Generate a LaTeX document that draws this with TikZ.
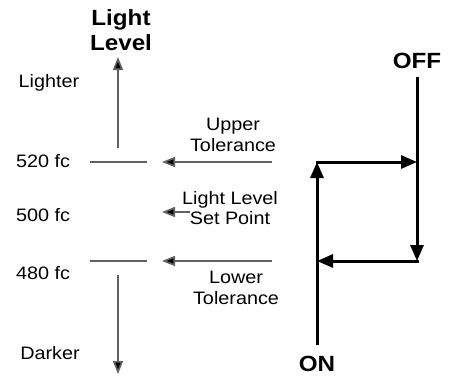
\documentclass[tikz,border=0pt]{standalone}
\usepackage{fontspec}
\setmainfont{Liberation Sans}[FakeStretch=1.1]
\usetikzlibrary{arrows.meta}
\begin{document}
\begin{tikzpicture}[x=1pt,y=-1pt,
  lbl/.style={font=\fontsize{18}{20.5}\selectfont, align=center, inner sep=0pt},
  bld/.style={font=\fontsize{22}{25.5}\selectfont\bfseries, align=center, inner sep=0pt},
  thin/.style={draw=black!62, line width=1.7pt},
  tharr/.style={thin, -{Triangle[length=13pt,width=10pt,fill=black]}},
  thick/.style={draw=black, line width=3pt},
  bigarr/.style={thick, -{Triangle[length=16pt,width=13pt]}}]
\useasboundingbox (0,0) rectangle (450,376);
% labels
\node[bld] (title) at (121,30) {Light\\Level};
\node[lbl] (lighter) at (49,83) {Lighter};
\node[lbl] (f520) at (43,161) {520 fc};
\node[lbl] (f500) at (43,215) {500 fc};
\node[lbl] (f480) at (43,273) {480 fc};
\node[lbl] (darker) at (50,353) {Darker};
\node[lbl] (upper) at (233,135) {Upper\\Tolerance};
\node[lbl] (setp) at (230,208) {Light Level\\Set Point};
\node[lbl] (lower) at (236,288) {Lower\\Tolerance};
\node[bld] (off) at (417,61) {OFF};
\node[bld] (on) at (317,364) {ON};
% coordinates
\coordinate (upS) at (118,148);
\coordinate (upE) at (118,57);
\coordinate (dnS) at (118,275);
\coordinate (dnE) at (118,374);
\coordinate (m1a) at (90,162);
\coordinate (m1b) at (147,162);
\coordinate (m2a) at (90,261);
\coordinate (m2b) at (147,261);
\coordinate (uS) at (272,162);
\coordinate (uE) at (162,162);
\coordinate (sS) at (190,212);
\coordinate (sE) at (162,212);
\coordinate (lS) at (272,261);
\coordinate (lE) at (162,261);
\coordinate (offS) at (417,77);
\coordinate (offE) at (417,261);
\coordinate (botS) at (418.5,261);
\coordinate (botE) at (317,261);
\coordinate (onS) at (317,345);
\coordinate (onE) at (317,162);
\coordinate (topS) at (315.5,162);
\coordinate (topE) at (417,162);
% left side
\draw[tharr] (upS) -- (upE);
\draw[tharr] (dnS) -- (dnE);
\draw[thin] (m1a) -- (m1b);
\draw[thin] (m2a) -- (m2b);
\draw[tharr] (uS) -- (uE);
\draw[tharr] (sS) -- (sE);
\draw[tharr] (lS) -- (lE);
% right side
\draw[bigarr] (offS) -- (offE);
\draw[bigarr] (botS) -- (botE);
\draw[bigarr] (onS) -- (onE);
\draw[bigarr] (topS) -- (topE);
\end{tikzpicture}
\end{document}
